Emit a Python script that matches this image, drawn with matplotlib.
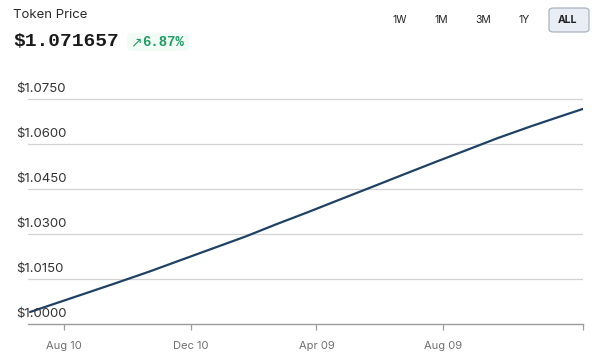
import matplotlib as mpl
mpl.use('Agg')
import matplotlib.pyplot as plt
from matplotlib.patches import FancyBboxPatch
import pandas as pd

# price series
dates = pd.to_datetime([
    '2023-07-08', '2023-08-01', '2023-09-01', '2023-10-01', '2023-11-01',
    '2023-12-01', '2024-01-01', '2024-02-01', '2024-03-01', '2024-04-01',
    '2024-05-01', '2024-06-01', '2024-07-01', '2024-08-01', '2024-09-01',
    '2024-10-01', '2024-11-01', '2024-12-01', '2024-12-22'])
prices = [1.0040, 1.0068, 1.0104, 1.0139, 1.0176,
          1.0214, 1.0253, 1.0292, 1.0332, 1.0373,
          1.0414, 1.0456, 1.0497, 1.0539, 1.0580,
          1.0620, 1.0658, 1.0693, 1.0717]

ytick_vals = [1.0000, 1.0150, 1.0300, 1.0450, 1.0600, 1.0750]
xtick_dates = pd.to_datetime(['2023-08-10', '2023-12-10', '2024-04-09', '2024-08-09'])
xtick_labels = ['Aug 10', 'Dec 10', 'Apr 09', 'Aug 09']
ranges = ['1W', '1M', '3M', '1Y', 'ALL']

title = 'Token Price'
last_price = '$1.071657'
change = '6.87%'

W, H = 600, 359
fig = plt.figure(figsize=(W/100, H/100), dpi=100)
fig.patch.set_facecolor('white')

ax_l, ax_r, ax_b, ax_t = 28, 583, 324, 91.5
ax = fig.add_axes([ax_l/W, 1-ax_b/H, (ax_r-ax_l)/W, (ax_b-ax_t)/H])
ax.set_facecolor('white')

ax.plot(dates, prices, color='#1f4264', lw=1.6, solid_capstyle='round', zorder=3)

ax.set_ylim(1.0, 1.0775)
ax.set_xlim(pd.Timestamp('2023-07-06'), pd.Timestamp('2024-12-22'))

for v in ytick_vals[1:]:
    ax.axhline(v, color='#d3d3d3', lw=0.9, zorder=1)
for v in ytick_vals:
    ax.text(-0.0216, v + 0.0012, f'${v:.4f}', transform=ax.get_yaxis_transform(),
            ha='left', va='bottom', fontsize=9.5, color='#333333', family='Inter', zorder=4)

for s in ['top', 'right', 'left']:
    ax.spines[s].set_visible(False)
ax.spines['bottom'].set_color('#9c9c9c')
ax.spines['bottom'].set_linewidth(1.0)
ax.set_yticks([])
xt = list(xtick_dates) + [pd.Timestamp('2024-12-22')]
ax.set_xticks(xt)
ax.set_xticklabels(xtick_labels + [''], fontsize=8, color='#707070', family='Inter')
ax.tick_params(axis='x', length=4, width=0.9, color='#9c9c9c', pad=8)

# header
fig.text(13/W, 1-15/H, title, fontsize=9.5, color='#2b2b2b', family='Inter',
         ha='left', va='center')
fig.text(13/W, 1-42/H, last_price, fontsize=14, fontweight='bold', color='#1a1a1a',
         family=['Liberation Mono', 'DejaVu Sans Mono'], ha='left', va='center')
# faint green glow behind the change badge
glow = FancyBboxPatch((127/W, 1-51/H), 62/W, 18/H, boxstyle='round,pad=0,rounding_size=0.01',
                      transform=fig.transFigure, fc='#f3fbf6', ec='none')
fig.patches.append(glow)
fig.text(130/W, 1-42/H, '\u2197', fontsize=10, color='#1f9d63', family='DejaVu Sans',
         ha='left', va='center')
fig.text(142/W, 1-42/H, change, fontsize=10, fontweight='bold', color='#1f9d63',
         family='Liberation Mono', ha='left', va='center')

# range buttons
btn_x = [400, 441, 483, 524, 568]
box = FancyBboxPatch((549/W, 1-32/H), 40/W, 24/H, boxstyle='round,pad=0,rounding_size=0.008',
                     transform=fig.transFigure, fc='#e9eef5', ec='#a9b3c0', lw=0.9)
fig.patches.append(box)
for bx, lab in zip(btn_x, ranges):
    fig.text(bx/W, 1-20/H, lab, fontsize=7.5, color='#222222', family='Inter',
             ha='center', va='center', fontweight='bold' if lab == 'ALL' else 'normal')

fig.savefig('out.png', dpi=100)
